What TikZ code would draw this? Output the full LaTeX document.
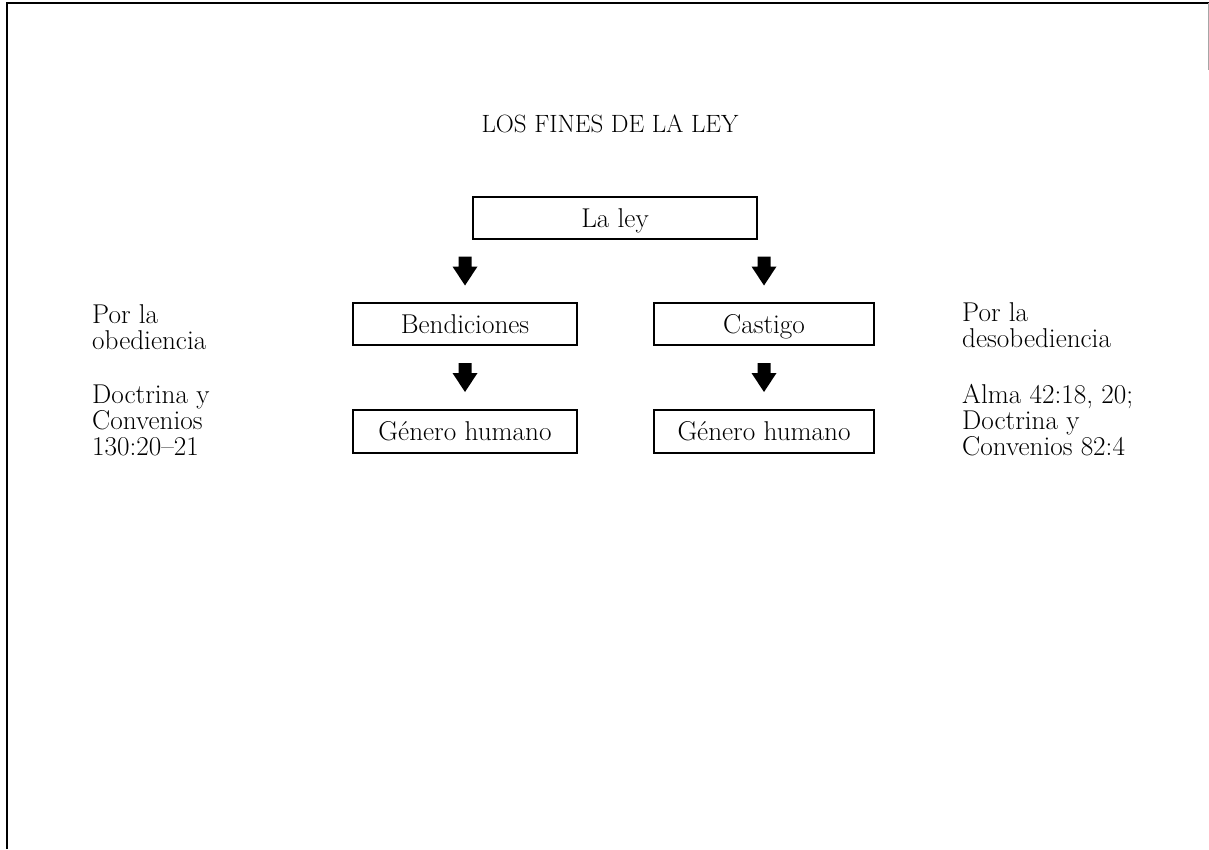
\documentclass[tikz,border=0pt]{standalone}
\usetikzlibrary{calc}
\begin{document}
\begin{tikzpicture}[x=1pt,y=-1pt,
  txt/.style={font=\fontsize{27.2}{26}\selectfont},
  box/.style={draw, line width=1.4pt, inner sep=0pt, minimum height=42pt, txt, text height=18.5pt, text depth=0pt},
  side/.style={txt, align=left, anchor=north west, inner sep=0pt},
  downarrow/.pic={\fill (-6.5,-14.5) -- (6.5,-14.5) -- (6.5,-4.5) -- (12.5,-4.5) -- (0,14.5) -- (-12.5,-4.5) -- (-6.5,-4.5) -- cycle;}]
\useasboundingbox (0,0) rectangle (1209,849);
% frame
\draw[line width=2pt] (7,849) -- (7,3) -- (1209,3);
\draw[line width=0.8pt, black!35] (1208,3) -- (1208,70);
% title
\node[font=\fontsize{25}{26}\selectfont, anchor=base, inner sep=0pt] (title) at (610,132) {LOS FINES DE LA LEY};
% boxes
\node[box, minimum width=284pt] (laley) at (615,218) {La ley};
\node[box, minimum width=224pt] (bend) at (465,324) {Bendiciones};
\node[box, minimum width=220pt] (cast) at (764,324) {Castigo};
\node[box, minimum width=224pt, minimum height=43pt] (gen1) at (465,431.5) {Género humano};
\node[box, minimum width=220pt, minimum height=43pt] (gen2) at (764,431.5) {Género humano};
% arrows
\path (laley.south -| bend) -- (bend.north) pic[pos=0.5] {downarrow};
\path (laley.south -| cast) -- (cast.north) pic[pos=0.5] {downarrow};
\path (bend.south) -- (gen1.north) pic[pos=0.5] {downarrow};
\path (cast.south) -- (gen2.north) pic[pos=0.5] {downarrow};
% side texts
\node[side] (lobed) at (92,304) {Por la\\obediencia};
\node[side] (lref) at (92,385) {Doctrina y\\Convenios\\130:20--21};
\node[side] (rdes) at (962,302) {Por la\\desobediencia};
\node[side] (rref) at (962,384) {Alma 42:18, 20;\\Doctrina y\\Convenios 82:4};
\end{tikzpicture}
\end{document}
